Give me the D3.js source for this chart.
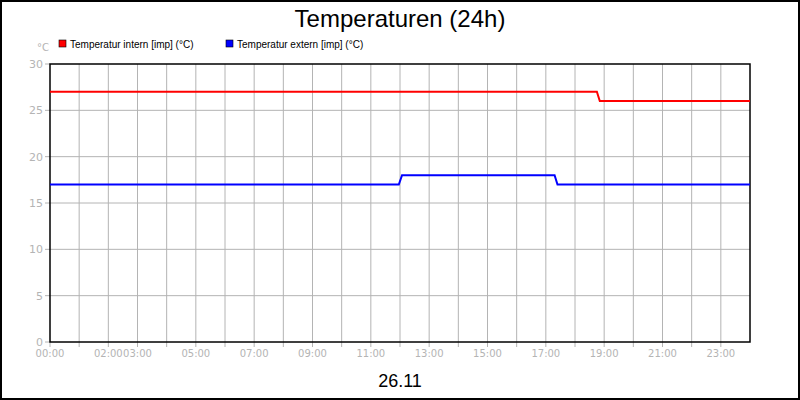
<!DOCTYPE html>
<html><head><meta charset="utf-8">
<script src="https://cdn.jsdelivr.net/npm/d3@7"></script>
<style>body{margin:0}svg{display:block;font-family:"DejaVu Sans",sans-serif}</style>
</head><body>
<svg id="chart" width="800" height="400"></svg>
<script>
// hours since 00:00 and values
var internHours = [0, 18.75, 18.85, 24];
var internValues = [27, 27, 26, 26];
var externHours = [0, 11.96, 12.07, 17.3, 17.4, 24];
var externValues = [17, 17, 18, 18, 17, 17];
var yTicks = [0, 5, 10, 15, 20, 25, 30];
var xTickLabels = {0: "00:00", 2: "02:00", 3: "03:00", 5: "05:00", 7: "07:00", 9: "09:00", 11: "11:00",
  13: "13:00", 15: "15:00", 17: "17:00", 19: "19:00", 21: "21:00", 23: "23:00"};

(function () {
var svg = d3.select("#chart");
var pL = 50, pR = 750, pT = 64, pB = 342;
var x = d3.scaleLinear().domain([0, 24]).range([pL, pR]);
var y = d3.scaleLinear().domain([0, 30]).range([pB, pT]);
var grey = "#b4b4b4";

// outer border
svg.append("rect").attr("x", 1).attr("y", 1).attr("width", 798).attr("height", 398)
  .attr("fill", "#fff").attr("stroke", "#000").attr("stroke-width", 2);

// grid
var hours = d3.range(1, 24);
svg.selectAll(".vg").data(hours).enter().append("line")
  .attr("x1", d => x(d)).attr("x2", d => x(d)).attr("y1", pT).attr("y2", pB + 5)
  .attr("stroke", grey);
svg.selectAll(".hg").data(yTicks.slice(1, -1)).enter().append("line")
  .attr("x1", pL).attr("x2", pR).attr("y1", d => y(d)).attr("y2", d => y(d))
  .attr("stroke", grey);

// y ticks + labels
svg.selectAll(".yt").data(yTicks).enter().append("line")
  .attr("x1", pL - 5).attr("x2", pL).attr("y1", d => y(d)).attr("y2", d => y(d)).attr("stroke", grey);
svg.selectAll(".yl").data(yTicks).enter().append("text")
  .attr("x", pL - 7).attr("y", d => y(d) + 4).attr("text-anchor", "end")
  .attr("font-size", 11).attr("fill", grey).text(d => d);
svg.append("text").attr("x", 37).attr("y", 51).attr("font-size", 10).attr("fill", grey).text("°C");

// x labels
Object.keys(xTickLabels).forEach(function (h) {
  svg.append("text").attr("x", x(+h)).attr("y", 357).attr("text-anchor", "middle")
    .attr("font-size", 10).attr("fill", grey).text(xTickLabels[h]);
});
svg.append("line").attr("x1", pL).attr("x2", pL).attr("y1", pB).attr("y2", pB + 5).attr("stroke", grey);

// frame
svg.append("rect").attr("x", pL).attr("y", pT).attr("width", pR - pL).attr("height", pB - pT)
  .attr("fill", "none").attr("stroke", "#000").attr("stroke-width", 1.5);

// lines
var line = d3.line().x(d => x(d[0])).y(d => y(d[1]));
svg.append("path").datum(d3.zip(internHours, internValues)).attr("d", line)
  .attr("fill", "none").attr("stroke", "#ff0000").attr("stroke-width", 2);
svg.append("path").datum(d3.zip(externHours, externValues)).attr("d", line)
  .attr("fill", "none").attr("stroke", "#0000ff").attr("stroke-width", 2);

// title
svg.append("text").attr("x", 400).attr("y", 27).attr("text-anchor", "middle")
  .attr("font-size", 24).attr("font-family", "Liberation Sans, Arial, sans-serif").text("Temperaturen (24h)");
svg.append("text").attr("x", 400).attr("y", 387).attr("text-anchor", "middle")
  .attr("font-size", 18).attr("font-family", "Liberation Sans, Arial, sans-serif").text("26.11");

// legend
var legend = [["Temperatur intern [imp] (°C)", "#ff0000", 59], ["Temperatur extern [imp] (°C)", "#0000ff", 226]];
legend.forEach(function (l) {
  svg.append("rect").attr("x", l[2]).attr("y", 40).attr("width", 7).attr("height", 7)
    .attr("fill", l[1]).attr("stroke", "#000").attr("stroke-width", 0.6);
  svg.append("text").attr("x", l[2] + 11).attr("y", 48).attr("font-size", 10)
    .attr("font-family", "Liberation Sans, Arial, sans-serif").text(l[0]);
});
})();
</script>
</body></html>
